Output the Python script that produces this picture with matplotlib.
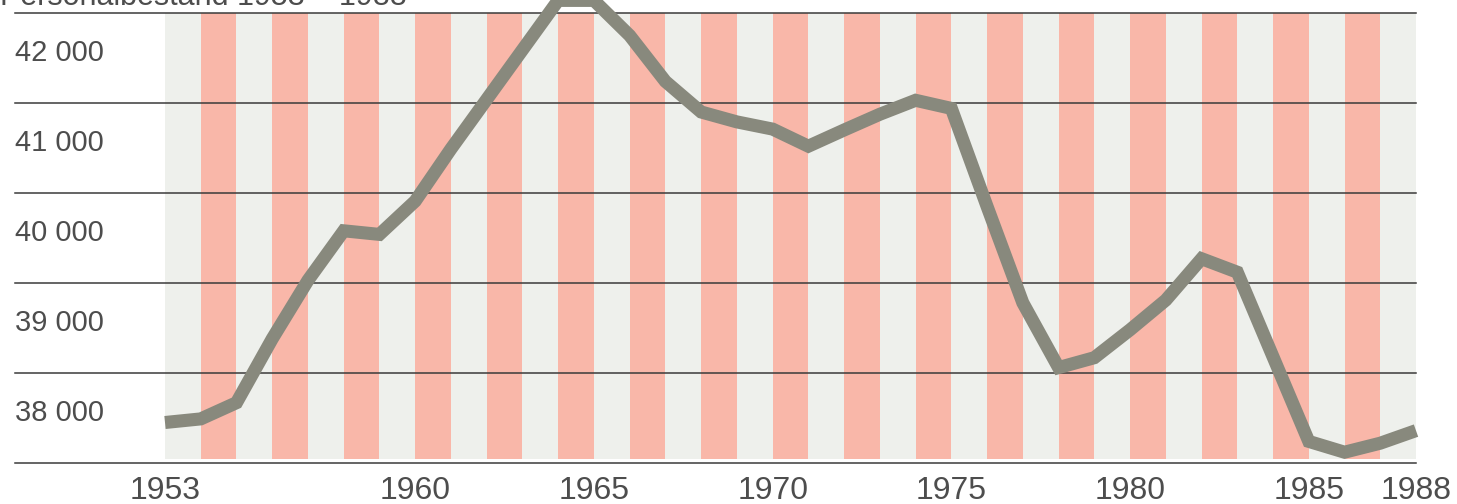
import matplotlib
matplotlib.use("Agg")
import matplotlib.pyplot as plt
import matplotlib.transforms as mtransforms

# ---- data ----
title = "Personalbestand 1953 – 1988"
years = list(range(1953, 1989))
staff = [37950, 37990, 38170, 38880, 39530, 40080, 40040, 40410, 40990, 41540,
         42090, 42640, 42640, 42250, 41740, 41400, 41290, 41210, 41020, 41200,
         41375, 41530, 41440, 40350, 39280, 38560, 38670, 38980, 39310, 39770,
         39620, 38680, 37740, 37620, 37720, 37860]
xtick_years = [1953, 1960, 1965, 1970, 1975, 1980, 1985, 1988]
ytick_values = [38000, 39000, 40000, 41000, 42000]
ytick_labels = ["38 000", "39 000", "40 000", "41 000", "42 000"]
grid_values = [37500, 38500, 39500, 40500, 41500, 42500]

# ---- style ----
plt.rcParams['font.family'] = ['Liberation Sans', 'DejaVu Sans']
W, H, DPI = 1457, 504, 100
PINK = "#F9B7A9"
GREY = "#EEF0EC"
LINE = "#88897D"
TEXT = "#4d4d4d"
GRID = "#3a3a3a"

fig = plt.figure(figsize=(W / DPI, H / DPI), dpi=DPI)
fig.patch.set_facecolor("white")
left_px, right_px, top_px, bot_px = 165, 1416, 13, 463
ax = fig.add_axes([left_px / W, 1 - bot_px / H, (right_px - left_px) / W, (bot_px - top_px) / H])
ax.set_xlim(years[0], years[-1])
ax.set_ylim(grid_values[0], grid_values[-1])
ax.set_axis_off()

# stripes, one per year
for y0 in years[:-1]:
    col = PINK if (y0 % 2 == 0) else GREY
    ax.axvspan(y0, y0 + 1, ymin=0.008, ymax=1.0, color=col, lw=0, zorder=1)

# gridlines
xmin_frac = (15 - left_px) / (right_px - left_px)
for g in grid_values:
    ax.axhline(g, xmin=xmin_frac, xmax=1.0, color=GRID, lw=1.1, clip_on=False, zorder=2)

# the line
ax.plot(years, staff, color=LINE, lw=9.4, solid_joinstyle='miter', solid_capstyle='butt',
        clip_on=False, zorder=3)

# y labels (left aligned at x=15px, slightly above band centre)
blend = mtransforms.blended_transform_factory(fig.transFigure, ax.transData)
off = mtransforms.ScaledTranslation(0, 5 / DPI, fig.dpi_scale_trans)
for v, lab in zip(ytick_values, ytick_labels):
    ax.text(15 / W, v, lab, transform=blend + off, ha='left', va='center',
            fontsize=21, color=TEXT, clip_on=False)

# x labels
blend_x = mtransforms.blended_transform_factory(ax.transData, fig.transFigure)
for yr in xtick_years:
    ax.text(yr, 1 - 491 / H, str(yr), transform=blend_x, ha='center', va='center',
            fontsize=23, color=TEXT, clip_on=False)

# title (cut off at the top edge like the reference)
fig.text(0 / W, 1 - 5 / H, title, ha='left', va='baseline', fontsize=22, color=TEXT)

fig.savefig("out.png", dpi=DPI, facecolor="white")
